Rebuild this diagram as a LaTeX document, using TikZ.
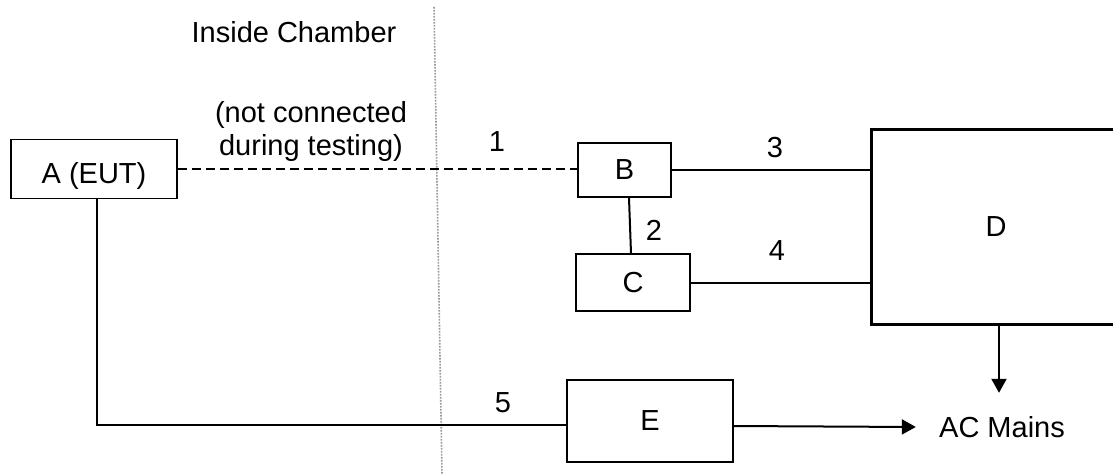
\documentclass[tikz,border=0pt]{standalone}
\usepackage{fontspec}
\setmainfont{Liberation Sans}
\usetikzlibrary{arrows.meta}
\begin{document}
\begin{tikzpicture}[x=1pt,y=-1pt,
  every node/.style={font=\fontsize{29}{33}\selectfont},
  box/.style={draw, line width=1.6pt, inner sep=0pt},
  bigbox/.style={draw, line width=3pt, inner sep=0pt},
  wire/.style={line width=2pt},
  dashwire/.style={line width=2pt, dash pattern=on 9pt off 5pt},
  feed/.style={line width=2pt, -{Triangle[length=14pt,width=15pt]}},
  lbl/.style={inner sep=0pt},
  wall/.style={line width=1.6pt, gray!80, dash pattern=on 1.6pt off 1.4pt}]
  \useasboundingbox (0,0) rectangle (1113,474);
  \clip (0,0) rectangle (1113,474);

  % chamber boundary
  \draw[wall] (434,7) -- (442,474);
  \node[lbl] (chamber) at (294,32) {Inside Chamber};
  \node[lbl, align=center] (note) at (311,131) {(not connected\\during testing)};

  % equipment
  \node[box, line width=1.8pt, minimum width=166pt, minimum height=59pt,
        text height=29pt, text depth=0pt] (A) at (94,169) {A (EUT)};
  \node[box, line width=2pt, minimum width=93pt, minimum height=54pt] (B) at (624.5,170) {B};
  \node[box, minimum width=114pt, minimum height=57pt] (C) at (633,282.5) {C};
  \node[bigbox, minimum width=250pt, minimum height=195pt] (D) at (996,226.5) {D};
  \node[box, minimum width=166pt, minimum height=82pt] (E) at (650,421) {E};
  \node[inner sep=0pt, minimum width=172pt, minimum height=68pt] (AC) at (1002,427) {AC Mains};

  % cables
  \draw[dashwire] (A.east) -- (A.east -| B.west);
  \draw[wire] ([xshift=4.5pt]B.south) -- ([xshift=-2pt]C.north);
  \draw[wire] (B.east) -- (B.east -| D.west);
  \draw[wire] (C.east) -- (C.east -| D.west);
  \draw[wire] ([xshift=3pt]A.south) |- ([yshift=-4pt]E.west);
  \draw[feed] ([yshift=-5pt]E.east) -- (AC.west);
  \draw[feed] ([xshift=3pt]D.south) -- ([xshift=3pt]D.south |- AC.north);

  % cable numbers
  \node[lbl] (n1) at (497,142) {1};
  \node[lbl] (n2) at (654,230) {2};
  \node[lbl] (n3) at (775,148) {3};
  \node[lbl] (n4) at (777,251) {4};
  \node[lbl] (n5) at (503,403) {5};
\end{tikzpicture}
\end{document}
